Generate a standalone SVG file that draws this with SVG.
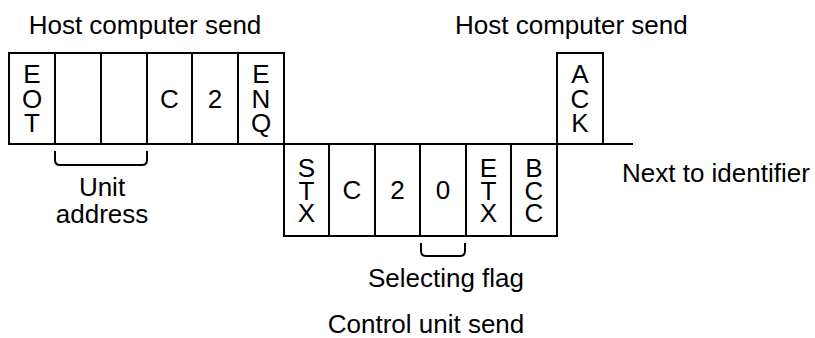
<svg xmlns="http://www.w3.org/2000/svg" width="815" height="338" viewBox="0 0 815 338">
<style>
.cell{fill:#fff;stroke:#000;stroke-width:2}
.t{font-family:"Liberation Sans",Arial,sans-serif;font-size:26px;fill:#000}
.c{text-anchor:middle}
.ln{fill:none;stroke:#000;stroke-width:2}
</style>
<rect width="815" height="338" fill="#fff"/>
<g id="label-host-left"><text class="t c" x="145" y="34">Host computer send</text></g>
<g id="label-host-right"><text class="t" x="455" y="34">Host computer send</text></g>
<g id="cell-eot"><rect class="cell" x="9" y="53" width="46" height="91"/>
<text class="t c" x="32" y="83">E<tspan x="32" dy="24.5">O</tspan><tspan x="32" dy="24.5">T</tspan></text></g>
<g id="cell-addr1"><rect class="cell" x="55" y="53" width="46" height="91"/></g>
<g id="cell-addr2"><rect class="cell" x="101" y="53" width="46" height="91"/></g>
<g id="cell-c1"><rect class="cell" x="147" y="53" width="45" height="91"/><text class="t c" x="169.5" y="107.5">C</text></g>
<g id="cell-2a"><rect class="cell" x="192" y="53" width="46" height="91"/><text class="t c" x="215" y="107.5">2</text></g>
<g id="cell-enq"><rect class="cell" x="238" y="53" width="46" height="91"/>
<text class="t c" x="261" y="83">E<tspan x="261" dy="24.5">N</tspan><tspan x="261" dy="24.5">Q</tspan></text></g>
<g id="cell-stx"><rect class="cell" x="284" y="144" width="45" height="92"/>
<text class="t c" x="306.5" y="177">S<tspan x="306.5" dy="22.5">T</tspan><tspan x="306.5" dy="22.5">X</tspan></text></g>
<g id="cell-c2"><rect class="cell" x="329" y="144" width="46" height="92"/><text class="t c" x="352" y="199">C</text></g>
<g id="cell-2b"><rect class="cell" x="375" y="144" width="45" height="92"/><text class="t c" x="397.5" y="199">2</text></g>
<g id="cell-0"><rect class="cell" x="420" y="144" width="46" height="92"/><text class="t c" x="443" y="199">0</text></g>
<g id="cell-etx"><rect class="cell" x="466" y="144" width="45" height="92"/>
<text class="t c" x="488.5" y="177">E<tspan x="488.5" dy="22.5">T</tspan><tspan x="488.5" dy="22.5">X</tspan></text></g>
<g id="cell-bcc"><rect class="cell" x="511" y="144" width="46" height="92"/>
<text class="t c" x="534" y="177">B<tspan x="534" dy="22.5">C</tspan><tspan x="534" dy="22.5">C</tspan></text></g>
<g id="cell-ack"><rect class="cell" x="557" y="53" width="46" height="91"/>
<text class="t c" x="580" y="83">A<tspan x="580" dy="24.5">C</tspan><tspan x="580" dy="24.5">K</tspan></text></g>
<g id="connectors">
<path class="ln" d="M603,144 H633"/>
<path class="ln" d="M55,151 V160 Q55,165 60,165 H142 Q147,165 147,160 V151"/>
<path class="ln" d="M421,243 V251 Q421,256 426,256 H460 Q465,256 465,251 V243"/>
</g>
<g id="label-unit-address"><text class="t c" x="102" y="196">Unit<tspan x="102" dy="27">address</tspan></text></g>
<g id="label-next"><text class="t" x="622" y="182">Next to identifier</text></g>
<g id="label-selecting"><text class="t c" x="446" y="287">Selecting flag</text></g>
<g id="label-control"><text class="t c" x="426" y="333">Control unit send</text></g>
</svg>
